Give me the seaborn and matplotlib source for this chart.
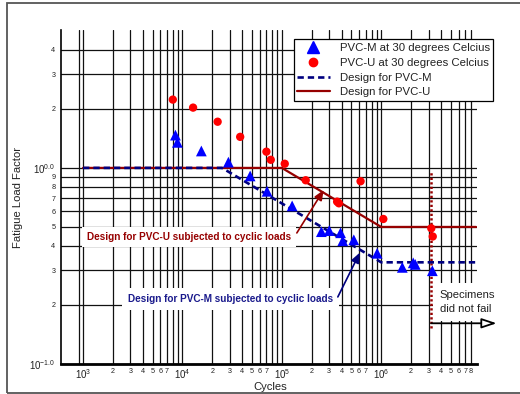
import matplotlib
matplotlib.use("Agg")
import matplotlib.pyplot as plt
import seaborn as sns
import numpy as np
import pandas as pd
from matplotlib.lines import Line2D
from matplotlib.patches import Rectangle

# ---------------- data ----------------
pvcm_cycles = [8.5e3, 8.9e3, 1.55e4, 2.9e4, 4.8e4, 7.1e4, 1.27e5, 2.5e5, 3.0e5,
               3.9e5, 4.1e5, 5.3e5, 9.1e5, 1.63e6, 2.1e6, 2.2e6, 3.27e6]
pvcm_factor = [1.47, 1.35, 1.22, 1.07, 0.91, 0.76, 0.64, 0.473, 0.479,
               0.467, 0.425, 0.43, 0.367, 0.311, 0.328, 0.322, 0.299]

pvcu_cycles = [8.0e3, 1.28e4, 2.26e4, 3.81e4, 7.0e4, 7.74e4, 1.07e5, 1.74e5,
               3.6e5, 3.75e5, 6.2e5, 1.05e6, 3.19e6, 3.3e6]
pvcu_factor = [2.23, 2.03, 1.72, 1.44, 1.21, 1.10, 1.05, 0.865,
               0.673, 0.66, 0.855, 0.549, 0.492, 0.447]

design_m_cycles = [1e3, 2.5e4, 1e6, 9e6]
design_m_factor = [1.0, 1.0, 0.33, 0.33]
design_u_cycles = [1e3, 1e5, 1e6, 9e6]
design_u_factor = [1.0, 1.0, 0.5, 0.5]

legend_labels = ["PVC-M at 30 degrees Celcius", "PVC-U at 30 degrees Celcius",
                 "Design for PVC-M", "Design for PVC-U"]

x_major = [1e3, 1e4, 1e5, 1e6]
x_major_labels = [r"$\mathregular{10^{3}}$", r"$\mathregular{10^{4}}$",
                  r"$\mathregular{10^{5}}$", r"$\mathregular{10^{6}}$"]
x_minor = [9e2] + [m * 10 ** d for d in (3, 4, 5) for m in range(2, 10)] + \
          [m * 1e6 for m in range(2, 9)]
x_minor_labels = [""] + [(str(m) if m <= 7 else "") for d in (3, 4, 5) for m in range(2, 10)] + \
                 [str(m) for m in range(2, 9)]

y_major = [0.1, 1.0]
y_major_labels = [r"$\mathregular{10^{-1.0}}$", r"$\mathregular{10^{0.0}}$"]
y_minor = [0.2, 0.3, 0.4, 0.5, 0.6, 0.7, 0.8, 0.9, 2, 3, 4]
y_minor_labels = ["2", "3", "4", "5", "6", "7", "8", "9", "2", "3", "4"]

# ---------------- style ----------------
sns.set_theme(style="white")
plt.rcParams["font.family"] = ["Liberation Sans", "DejaVu Sans"]
plt.rcParams["mathtext.fontset"] = "custom"
plt.rcParams["mathtext.rm"] = "Liberation Sans"

RED_D = "#960000"
NAVY = "#000080"

fig = plt.figure(figsize=(5.2, 3.94), dpi=100)
ax = fig.add_axes([61 / 520, 1 - 364 / 394, 416 / 520, 334 / 394])
ax.set_xscale("log")
ax.set_yscale("log")
ax.set_xlim(600, 9.2e6)
ax.set_ylim(0.1, 5.05)
ax.set_axisbelow(True)

# design lines
dm = pd.DataFrame({"Cycles": design_m_cycles, "Factor": design_m_factor})
du = pd.DataFrame({"Cycles": design_u_cycles, "Factor": design_u_factor})
sns.lineplot(data=du, x="Cycles", y="Factor", ax=ax, color=RED_D, lw=1.6,
             sort=False, estimator=None, zorder=3)
sns.lineplot(data=dm, x="Cycles", y="Factor", ax=ax, color=NAVY, lw=1.9,
             sort=False, estimator=None, zorder=3.5, linestyle=(0, (2.4, 1.5)))

# points
sns.scatterplot(x=pvcm_cycles, y=pvcm_factor, ax=ax, marker="^", color="#0000FF",
                s=60, edgecolor="none", zorder=4)
sns.scatterplot(x=pvcu_cycles, y=pvcu_factor, ax=ax, marker="o", color="#FF0000",
                s=36, edgecolor="none", zorder=4)

# ticks
ax.set_xticks(x_major, labels=x_major_labels)
ax.set_xticks(x_minor, labels=x_minor_labels, minor=True)
ax.set_yticks(y_major, labels=y_major_labels)
ax.set_yticks(y_minor, labels=y_minor_labels, minor=True)
ax.tick_params(axis="both", which="both", length=0, colors="#222222")
ax.tick_params(axis="x", which="major", labelsize=7, pad=2.5)
ax.tick_params(axis="x", which="minor", labelsize=5.2, pad=3)
ax.tick_params(axis="y", which="major", labelsize=7, pad=4)
ax.tick_params(axis="y", which="minor", labelsize=5.2, pad=4)

ax.grid(True, which="both", color="#111111", lw=0.9)

for s in ("top", "right"):
    ax.spines[s].set_visible(False)
ax.spines["bottom"].set_color("black")
ax.spines["bottom"].set_linewidth(2.0)
ax.spines["left"].set_color("black")
ax.spines["left"].set_linewidth(1.2)

ax.set_xlabel("Cycles", fontsize=8.1, color="#222222")
ax.set_ylabel("Fatigue Load Factor", fontsize=8.1, color="#222222")
ax.xaxis.set_label_coords(0.502, -0.054)
ax.yaxis.set_label_coords(-0.092, 0.5)

# annotations
ax.text(1097, 0.443, "Design for PVC-U subjected to cyclic loads", color=RED_D,
        fontsize=7.2, fontweight="bold", ha="left", va="center", zorder=3,
        bbox=dict(boxstyle="square,pad=0.5", fc="white", ec="none"))
ax.annotate("", xy=(2.64e5, 0.772), xytext=(1.416e5, 0.466),
            arrowprops=dict(arrowstyle="-|>,head_length=0.6,head_width=0.25",
                            color=RED_D, lw=1.2, shrinkA=0, shrinkB=0,
                            mutation_scale=10), zorder=4)

ax.text(2830, 0.2154, "Design for PVC-M subjected to cyclic loads", color="#1a1a8c",
        fontsize=7.2, fontweight="bold", ha="left", va="center", zorder=3,
        bbox=dict(boxstyle="square,pad=0.6", fc="white", ec="none"))
ax.annotate("", xy=(6.1e5, 0.37), xytext=(3.66e5, 0.2198),
            arrowprops=dict(arrowstyle="-|>,head_length=0.6,head_width=0.25",
                            color=NAVY, lw=1.2, shrinkA=0, shrinkB=0,
                            mutation_scale=10), zorder=4)

# did-not-fail marker
ax.plot([3.18e6, 3.18e6], [0.153, 0.954], color=RED_D, lw=1.8,
        linestyle=(0, (0.9, 0.9)), zorder=3)
ax.text(3.87e6, 0.207, "Specimens\ndid not fail", color="#222222", fontsize=8.1,
        ha="left", va="center", linespacing=1.45, zorder=3, clip_on=False,
        bbox=dict(boxstyle="square,pad=0.6", fc="white", ec="none"))
ax.annotate("", xy=(1.45e7, 0.1613), xytext=(3.18e6, 0.1613),
            arrowprops=dict(arrowstyle="-|>,head_length=0.9,head_width=0.3",
                            fc="white", ec="black", lw=1.3, shrinkA=0, shrinkB=0,
                            mutation_scale=10),
            annotation_clip=False, zorder=4)

# legend
handles = [
    Line2D([], [], marker="^", color="#0000FF", ls="none", markersize=8),
    Line2D([], [], marker="o", color="#FF0000", ls="none", markersize=6),
    Line2D([], [], color=NAVY, lw=1.9, linestyle=(0, (2.4, 1.5))),
    Line2D([], [], color=RED_D, lw=1.6),
]
leg = ax.legend(handles, legend_labels, loc="upper left",
                bbox_to_anchor=(293.5 / 520, 1 - 39.3 / 394),
                bbox_transform=fig.transFigure, borderaxespad=0,
                fontsize=8.2, frameon=True, fancybox=False, framealpha=1,
                edgecolor="black", handlelength=2.9, handletextpad=0.85,
                labelspacing=0.43, borderpad=0.3)
leg.get_frame().set_linewidth(0.9)
for t in leg.get_texts():
    t.set_color("#222222")
leg.set_zorder(6)

# outer frame
fig.patches.append(Rectangle((6.7 / 520, 1 - 392.7 / 394), 1.2, (392.7 - 2.7) / 394,
                             transform=fig.transFigure, fill=False,
                             ec="#555555", lw=1.3))

fig.savefig("out.png", dpi=100)
